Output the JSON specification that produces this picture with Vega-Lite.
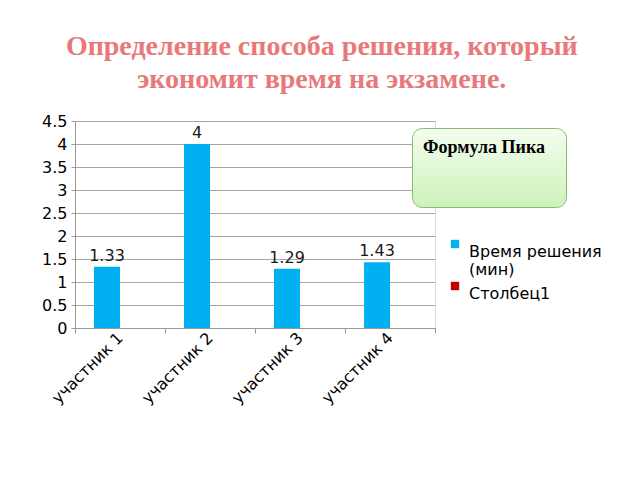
{
  "$schema": "https://vega.github.io/schema/vega-lite/v6.json",
  "width": 360,
  "height": 207,
  "autosize": {"type": "none"},
  "padding": {"left": 75, "top": 121, "right": 205, "bottom": 152},
  "background": "white",
  "title": {
    "text": ["Определение способа решения, который", "экономит время на экзамене."],
    "font": "Liberation Serif",
    "fontSize": 28,
    "fontWeight": "bold",
    "color": "#e8787a",
    "anchor": "middle",
    "frame": "bounds",
    "lineHeight": 33,
    "offset": 19
  },
  "data": {
    "values": [
      {"participant": "участник 1", "series": "Время решения (мин)", "time": 1.33},
      {"participant": "участник 2", "series": "Время решения (мин)", "time": 4},
      {"participant": "участник 3", "series": "Время решения (мин)", "time": 1.29},
      {"participant": "участник 4", "series": "Время решения (мин)", "time": 1.43}
    ]
  },
  "encoding": {
    "x": {
      "field": "participant",
      "type": "nominal",
      "title": null,
      "scale": {"paddingInner": 0, "paddingOuter": 0},
      "axis": {
        "labelAngle": -45,
        "labelAlign": "right",
        "labelBaseline": "middle",
        "labelFont": "DejaVu Sans",
        "labelFontSize": 16,
        "labelColor": "#000",
        "labelPadding": 2,
        "tickBand": "extent",
        "tickColor": "#999",
        "tickSize": 5,
        "domainColor": "#999"
      }
    },
    "y": {
      "field": "time",
      "type": "quantitative",
      "title": null,
      "scale": {"domain": [0, 4.5], "nice": false},
      "axis": {
        "values": [0, 0.5, 1, 1.5, 2, 2.5, 3, 3.5, 4, 4.5],
        "format": "~g",
        "labelFont": "DejaVu Sans",
        "labelFontSize": 16,
        "labelColor": "#000",
        "labelPadding": 4,
        "tickColor": "#999",
        "tickSize": 4,
        "domainColor": "#999",
        "gridColor": "#a6a6a6"
      }
    },
    "xOffset": {
      "field": "series",
      "scale": {"domain": ["Время решения (мин)", "Столбец1"], "paddingInner": 0, "paddingOuter": 0.73}
    }
  },
  "layer": [
    {
      "mark": {"type": "bar"},
      "encoding": {
        "color": {
          "field": "series",
          "type": "nominal",
          "scale": {"domain": ["Время решения (мин)", "Столбец1"], "range": ["#00b0f0", "#c00000"]},
          "legend": {
            "title": null,
            "orient": "none",
            "legendX": 372,
            "legendY": 115,
            "symbolType": "square",
            "symbolSize": 70,
            "symbolStrokeWidth": 0,
            "symbolOpacity": 1,
            "labelFont": "DejaVu Sans",
            "labelFontSize": 16,
            "labelColor": "#000",
            "labelBaseline": "top",
            "labelOffset": 6,
            "rowPadding": 0,
            "labelExpr": "datum.label == 'Время решения (мин)' ? ['Время решения', '(мин)'] : datum.label"
          }
        },
        "strokeDash": {
          "datum": "Формула Пика",
          "legend": {
            "title": "Формула Пика",
            "orient": "none",
            "legendX": 337,
            "legendY": 7,
            "titleFont": "Liberation Serif",
            "titleFontSize": 18,
            "titleFontWeight": "bold",
            "titleColor": "#000",
            "titlePadding": 5,
            "padding": 11,
            "cornerRadius": 10,
            "strokeColor": "#86bd70",
            "fillColor": {"value": {"gradient": "linear", "x1": 0, "y1": 0, "x2": 0, "y2": 1, "stops": [{"offset": 0, "color": "#f4fdef"}, {"offset": 1, "color": "#cdf2b9"}]}},
            "symbolSize": 1100,
            "symbolOpacity": 0,
            "symbolStrokeWidth": 0,
            "labelOpacity": 0,
            "labelFontSize": 14,
            "labelExpr": "'XXXXXXXXXX'"
          }
        }
      }
    },
    {
      "mark": {"type": "text", "baseline": "bottom", "dy": -3, "font": "DejaVu Sans", "fontSize": 16, "color": "#1a1a1a"},
      "encoding": {
        "text": {"field": "time", "type": "quantitative"}
      }
    }
  ]
}
